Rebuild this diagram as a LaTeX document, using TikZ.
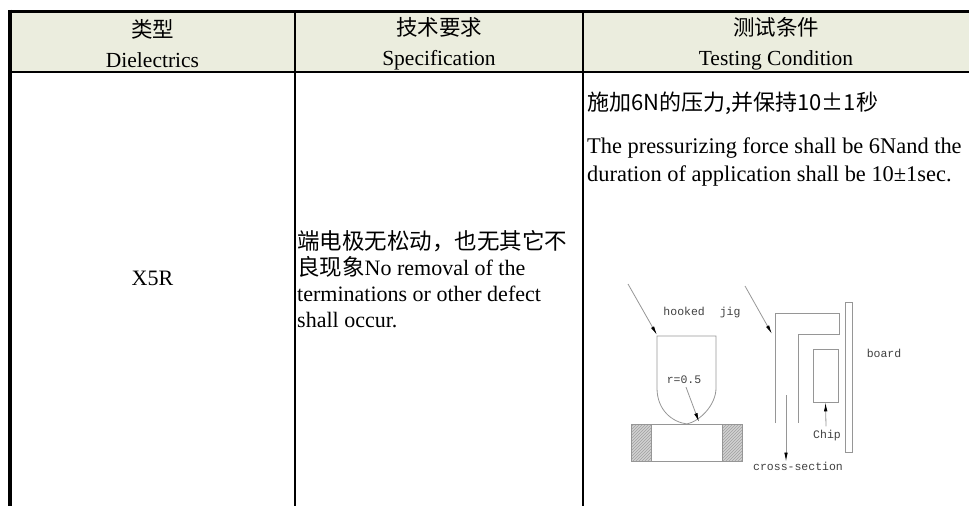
\documentclass[tikz,border=0pt]{standalone}
\usepackage{fontspec}
\setmainfont{Liberation Serif}
\newfontfamily\cjk{Noto Sans CJK SC}
\newfontfamily\figfont{Liberation Mono}
\usetikzlibrary{arrows.meta,patterns}
\definecolor{headfill}{RGB}{235,237,222}
\definecolor{linegray}{RGB}{150,150,150}

\tikzset{
  rule/.style={line width=2pt},
  celltext/.style={inner sep=0pt, font=\fontsize{22}{26}\selectfont},
  headtext/.style={inner sep=0pt, align=center, font=\fontsize{21.5}{30}\selectfont},
  figline/.style={draw=linegray, line width=0.8pt},
  figarrow/.style={draw=linegray, line width=0.8pt, -{Latex[length=9pt,width=3.5pt,color=black]}},
  figlabel/.style={inner sep=0pt, text=black!75, font=\figfont\fontsize{11.5}{12}\selectfont},
  electrode/.style={figline, preaction={fill=gray!35}, pattern=north east lines, pattern color=gray!75},
}

\begin{document}
\begin{tikzpicture}[x=1pt,y=-1pt]
		\useasboundingbox (0,0) rectangle (969,506);
		
		% table frame
		\fill[headfill] (10,11) rectangle (969,72);
		\draw[line width=3pt] (8.3,11) -- (969,11);
		\draw[line width=3.5pt] (10,9.5) -- (10,506);
		\draw[rule] (10,72) -- (969,72);
		\draw[rule] (295,11) -- (295,506);
		\draw[rule] (583,11) -- (583,506);
		
		% header
		\node[headtext] (headdiel) at (152.5,44) {{\cjk 类型}\\Dielectrics};
		\node[headtext] (headspec) at (439,44) {{\cjk 技术要求}\\Specification};
		\node[headtext] (headcond) at (776,44) {{\cjk 测试条件}\\Testing Condition};
		
		% body
		\node[celltext] (diel) at (152.5,278) {X5R};
		\node[celltext, anchor=north west, align=left] (spec) at (297,230) {{\cjk\fontsize{22.5}{26}\selectfont 端电极无松动，也无其它不}\\{\cjk\fontsize{22.5}{26}\selectfont 良现象}No removal of the\\terminations or other defect\\shall occur.};
		\node[celltext, anchor=west] (condcn) at (587,103) {\cjk 施加6N的压力,并保持10±1秒};
		\node[celltext, anchor=north west, align=left, font=\fontsize{22.4}{28}\selectfont] (conden) at (587,138) {The pressurizing force shall be 6Nand the\\duration of application shall be 10±1sec.};
		
		% hooked tool pressing the chip
		\draw[figline] (657,336) -- (657,388) .. controls (657,410) and (672,422) .. (687,424) .. controls (700,421) and (716,405) .. (716,388) -- (716,336) -- cycle;
		\draw[figline] (651,424) rectangle (722,461);
		\draw[electrode] (631,424) rectangle (651,461);
		\draw[electrode] (722,424) rectangle (742,461);
		
		% jig and board
		\draw[figline] (775,423) -- (775,313) -- (839,313) -- (839,334) -- (798,334) -- (798,423);
		\draw[figline] (845,302) rectangle (852,452);
		\node[figline, inner sep=0pt, minimum width=25pt, minimum height=53pt] (chip) at (825.5,375.5) {};
		
		% labels
		\node[figlabel] (hooklbl) at (702,313) {hooked\hspace{1.3em}jig};
		\node[figlabel] (rlbl) at (684,380) {r=0.5};
		\node[figlabel] (boardlbl) at (884,353) {board};
		\node[figlabel] (chiplbl) at (827,436) {Chip};
		\node[figlabel] (seclbl) at (798,466) {cross-section};
		
		\coordinate (toolfrom) at (628,284);
		\coordinate (toolcorner) at (657,335);
		\coordinate (jigfrom) at (745,286);
		\coordinate (jigcorner) at (772,334);
		\coordinate (rtip) at (699,422);
		\coordinate (secfrom) at (786,395);
		
		\draw[figarrow] (toolfrom) -- (toolcorner);
		\draw[figarrow] (jigfrom) -- (jigcorner);
		\draw[figarrow] (rlbl.south) ++(2,3) -- (rtip);
		\draw[figarrow] (chiplbl.north) ++(-1,-4) -- (chip.south);
		\draw[figarrow] (secfrom) -- (secfrom |- seclbl.north);
		
	\end{tikzpicture}
\end{document}
